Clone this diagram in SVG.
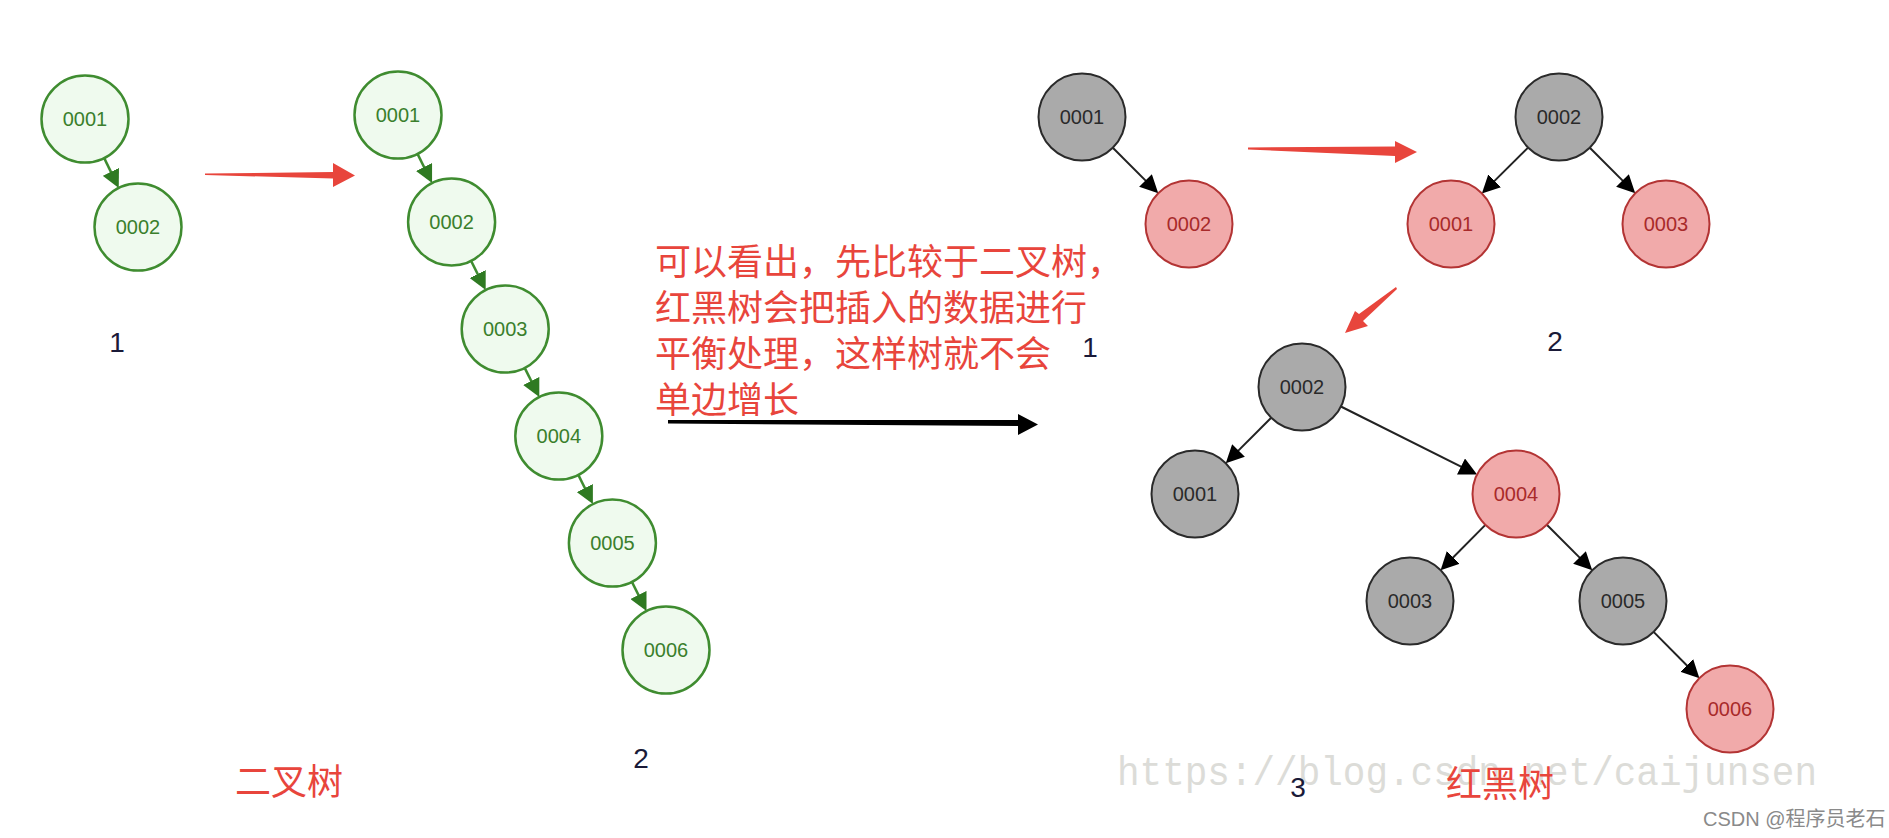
<svg xmlns="http://www.w3.org/2000/svg" width="1889" height="838" viewBox="0 0 1889 838">
<style>
.g circle{fill:#effaee;stroke:#3f8c30;stroke-width:2.5}
.g text{fill:#3a7f2c}
.k circle{fill:#aaaaaa;stroke:#2a2a2a;stroke-width:2}
.k text{fill:#2a2a2a}
.r circle{fill:#f1aaaa;stroke:#b33434;stroke-width:2}
.r text{fill:#a82a2a}
.node text{font-family:"Liberation Sans",Arial,sans-serif;font-size:20px;text-anchor:middle}
.gl{stroke:#3f8c30;stroke-width:2.5;fill:none}
.bl{stroke:#222;stroke-width:2;fill:none}
.num{font-family:"Liberation Sans",Arial,sans-serif;font-size:28px;fill:#1a1a38;text-anchor:middle}
.cn{font-family:"Noto Sans CJK SC",sans-serif;font-size:36px;fill:#e8453c}
</style>
<defs>
<marker id="ag" markerUnits="userSpaceOnUse" viewBox="0 0 18 18" markerWidth="18" markerHeight="18" refX="14" refY="9" orient="auto"><path d="M0,0 L18,9 L0,18 z" fill="#2f7a22"/></marker>
<marker id="ak" markerUnits="userSpaceOnUse" viewBox="0 0 18 18" markerWidth="18" markerHeight="18" refX="14" refY="9" orient="auto"><path d="M0,0 L18,9 L0,18 z" fill="#000"/></marker>
</defs>
<rect width="1889" height="838" fill="#ffffff"/>
<text x="1117" y="785" font-family="'Liberation Mono',monospace" font-size="40" fill="#dcdcd8" textLength="700" lengthAdjust="spacingAndGlyphs">https://blog.csdn.net/caijunsen</text>
<g id="connectors">
<line class="gl" x1="104.2" y1="158.1" x2="117" y2="184.4" marker-end="url(#ag)"/>
<line class="gl" x1="417.5" y1="153.9" x2="430.3" y2="179.5" marker-end="url(#ag)"/>
<line class="gl" x1="471.1" y1="260.9" x2="483.9" y2="286.5" marker-end="url(#ag)"/>
<line class="gl" x1="524.7" y1="367.9" x2="537.5" y2="393.5" marker-end="url(#ag)"/>
<line class="gl" x1="578.3" y1="474.9" x2="591.1" y2="500.5" marker-end="url(#ag)"/>
<line class="gl" x1="631.9" y1="581.9" x2="644.7" y2="607.5" marker-end="url(#ag)"/>
<line class="bl" x1="1112.8" y1="147.8" x2="1155.4" y2="190.4" marker-end="url(#ak)"/>
<line class="bl" x1="1528.1" y1="147.6" x2="1484.7" y2="190.6" marker-end="url(#ak)"/>
<line class="bl" x1="1589.8" y1="147.8" x2="1632.4" y2="190.4" marker-end="url(#ak)"/>
<line class="bl" x1="1271.2" y1="417.8" x2="1228.6" y2="460.4" marker-end="url(#ak)"/>
<line class="bl" x1="1340.9" y1="406.5" x2="1473.5" y2="472.8" marker-end="url(#ak)"/>
<line class="bl" x1="1485.4" y1="524.9" x2="1443.4" y2="567.3" marker-end="url(#ak)"/>
<line class="bl" x1="1546.8" y1="524.8" x2="1589.4" y2="567.4" marker-end="url(#ak)"/>
<line class="bl" x1="1653.6" y1="631.9" x2="1696.6" y2="675.3" marker-end="url(#ak)"/>
<polygon points="205,173.5 333,172 333,163 355,175.5 333,187 333,178.5 205,175" fill="#e8453c"/>
<polygon points="1248,147.5 1395,146.5 1395,141 1417,152 1395,163 1395,156 1248,149.5" fill="#e8453c"/>
<polygon points="1396,287 1359,314 1355,311 1345,333 1368,326 1363,321 1397,289" fill="#e8453c"/>
<polygon points="668,420 1018,420 1018,414 1038,424.5 1018,435 1018,426 668,423.5" fill="#000"/>
</g>
<g id="bt1-0001" class="node g"><circle cx="85" cy="119" r="43.5"/><text x="85" y="126">0001</text></g>
<g id="bt1-0002" class="node g"><circle cx="138" cy="227" r="43.5"/><text x="138" y="234">0002</text></g>
<g id="bt2-0001" class="node g"><circle cx="398" cy="115" r="43.5"/><text x="398" y="122">0001</text></g>
<g id="bt2-0002" class="node g"><circle cx="451.6" cy="222" r="43.5"/><text x="451.6" y="229">0002</text></g>
<g id="bt2-0003" class="node g"><circle cx="505.2" cy="329" r="43.5"/><text x="505.2" y="336">0003</text></g>
<g id="bt2-0004" class="node g"><circle cx="558.8" cy="436" r="43.5"/><text x="558.8" y="443">0004</text></g>
<g id="bt2-0005" class="node g"><circle cx="612.4" cy="543" r="43.5"/><text x="612.4" y="550">0005</text></g>
<g id="bt2-0006" class="node g"><circle cx="666" cy="650" r="43.5"/><text x="666" y="657">0006</text></g>
<g id="rb1-0001" class="node k"><circle cx="1082" cy="117" r="43.5"/><text x="1082" y="124">0001</text></g>
<g id="rb1-0002" class="node r"><circle cx="1189" cy="224" r="43.5"/><text x="1189" y="231">0002</text></g>
<g id="rb2-0002" class="node k"><circle cx="1559" cy="117" r="43.5"/><text x="1559" y="124">0002</text></g>
<g id="rb2-0001" class="node r"><circle cx="1451" cy="224" r="43.5"/><text x="1451" y="231">0001</text></g>
<g id="rb2-0003" class="node r"><circle cx="1666" cy="224" r="43.5"/><text x="1666" y="231">0003</text></g>
<g id="rb3-0002" class="node k"><circle cx="1302" cy="387" r="43.5"/><text x="1302" y="394">0002</text></g>
<g id="rb3-0001" class="node k"><circle cx="1195" cy="494" r="43.5"/><text x="1195" y="501">0001</text></g>
<g id="rb3-0004" class="node r"><circle cx="1516" cy="494" r="43.5"/><text x="1516" y="501">0004</text></g>
<g id="rb3-0003" class="node k"><circle cx="1410" cy="601" r="43.5"/><text x="1410" y="608">0003</text></g>
<g id="rb3-0005" class="node k"><circle cx="1623" cy="601" r="43.5"/><text x="1623" y="608">0005</text></g>
<g id="rb3-0006" class="node r"><circle cx="1730" cy="709" r="43.5"/><text x="1730" y="716">0006</text></g>
<g id="labels">
<text class="num" x="117" y="352">1</text>
<text class="num" x="641" y="768">2</text>
<text class="num" x="1090" y="357">1</text>
<text class="num" x="1555" y="351">2</text>
<text class="num" x="1298" y="797">3</text>
<text class="cn" x="235" y="795">二叉树</text>
<text class="cn" x="1446" y="797">红黑树</text>
<text class="cn" x="655" y="275">可以看出，先比较于二叉树，</text>
<text class="cn" x="655" y="321">红黑树会把插入的数据进行</text>
<text class="cn" x="655" y="367">平衡处理，这样树就不会</text>
<text class="cn" x="655" y="413">单边增长</text>
<text x="1703" y="826" font-family="'Liberation Sans','Noto Sans CJK SC',sans-serif" font-size="20" fill="#8a8a8a">CSDN @程序员老石</text>
</g>
</svg>
